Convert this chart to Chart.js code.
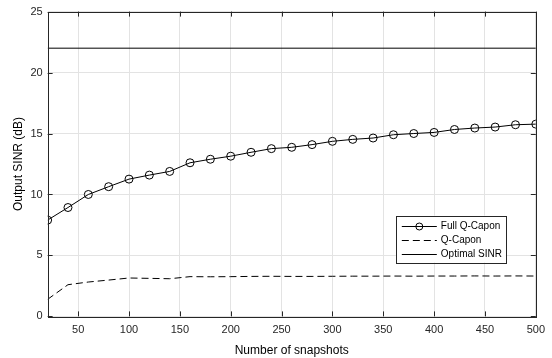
<!DOCTYPE html>
<html>
<head>
<meta charset="utf-8">
<script src="https://cdn.jsdelivr.net/npm/chart.js@4"></script>
<style>
  html, body { margin: 0; padding: 0; background: #fff; }
  #wrap { width: 552px; height: 358px; }
</style>
</head>
<body>
<div id="wrap"><canvas id="sinrChart"></canvas></div>
<script>
var snapshots = [20, 40, 60, 80, 100, 120, 140, 160, 180, 200, 220, 240, 260, 280, 300, 320, 340, 360, 380, 400, 420, 440, 460, 480, 500];
var fullQCapon = [7.9, 8.93, 10.0, 10.64, 11.26, 11.59, 11.89, 12.6, 12.89, 13.14, 13.46, 13.76, 13.87, 14.09, 14.36, 14.52, 14.63, 14.9, 15.0, 15.09, 15.33, 15.45, 15.53, 15.72, 15.77];
var qCapon = [1.4, 2.6, 2.82, 2.98, 3.15, 3.12, 3.09, 3.26, 3.25, 3.26, 3.28, 3.29, 3.28, 3.28, 3.29, 3.3, 3.3, 3.31, 3.3, 3.31, 3.31, 3.32, 3.31, 3.32, 3.31];
var optimalX = [20, 500];
var optimalSinr = [22, 22];
var xTicks = [50, 100, 150, 200, 250, 300, 350, 400, 450, 500];
var yTicks = [0, 5, 10, 15, 20, 25];

function pts(xs, ys) {
  return xs.map(function (x, i) { return { x: x, y: ys[i] }; });
}

var fontFamily = "'Liberation Sans', Arial, sans-serif";

// box around the plot + inward ticks, matlab style
var boxPlugin = {
  id: 'boxPlugin',
  afterDraw: function (chart) {
    var c = chart.ctx, a = chart.chartArea;
    var xs = chart.scales.x, ys = chart.scales.y;
    c.save();
    c.strokeStyle = '#262626';
    c.lineWidth = 1;
    c.strokeRect(Math.round(a.left) + 0.5, Math.round(a.top) + 0.5, Math.round(a.right - a.left), Math.round(a.bottom - a.top));
    c.beginPath();
    xTicks.forEach(function (v) {
      var px = Math.round(xs.getPixelForValue(v)) + 0.5;
      c.moveTo(px, a.bottom); c.lineTo(px, a.bottom - 5);
      c.moveTo(px, a.top); c.lineTo(px, a.top + 5);
    });
    yTicks.forEach(function (v) {
      var py = Math.round(ys.getPixelForValue(v)) + 0.5;
      c.moveTo(a.left, py); c.lineTo(a.left + 5, py);
      c.moveTo(a.right, py); c.lineTo(a.right - 5, py);
    });
    c.stroke();
    c.restore();
  }
};

// legend box inside the axes
var legendBox = {
  id: 'legendBox',
  afterDraw: function (chart) {
    var c = chart.ctx, a = chart.chartArea;
    var right = a.right - 30, top = a.top + 204;
    var w = 110, h = 47;
    var left = right - w;
    c.save();
    c.fillStyle = '#fff';
    c.fillRect(left, top, w, h);
    c.strokeStyle = '#262626';
    c.lineWidth = 1;
    c.strokeRect(Math.round(left) + 0.5, Math.round(top) + 0.5, w, h);
    c.font = '10px ' + fontFamily;
    c.textBaseline = 'middle';
    chart.data.datasets.forEach(function (ds, i) {
      var y = Math.round(top + 10 + i * 14.4) + 0.5;
      c.beginPath();
      c.setLineDash(ds.borderDash || []);
      c.strokeStyle = ds.borderColor;
      c.moveTo(left + 6, y); c.lineTo(left + 41, y);
      c.stroke();
      c.setLineDash([]);
      if (ds.pointRadius > 0) {
        c.beginPath();
        c.arc(left + 23.5, y, 3.5, 0, Math.PI * 2);
        c.stroke();
      }
      c.fillStyle = '#000';
      c.fillText(ds.label, left + 45, y);
    });
    c.restore();
  }
};

var ctx = document.getElementById('sinrChart').getContext('2d');
var sinrChart = new Chart(ctx, {
  type: 'line',
  data: {
    datasets: [{
      label: 'Full Q-Capon',
      data: pts(snapshots, fullQCapon),
      borderColor: '#000',
      borderWidth: 1,
      pointRadius: 4,
      pointBorderWidth: 1,
      pointBackgroundColor: 'rgba(0,0,0,0)',
      pointBorderColor: '#000',
      tension: 0
    }, {
      label: 'Q-Capon',
      data: pts(snapshots, qCapon),
      borderColor: '#000',
      borderWidth: 1,
      borderDash: [7, 4],
      pointRadius: 0,
      tension: 0
    }, {
      label: 'Optimal SINR',
      data: pts(optimalX, optimalSinr),
      borderColor: '#000',
      borderWidth: 1,
      pointRadius: 0,
      tension: 0
    }]
  },
  options: {
    responsive: true,
    maintainAspectRatio: false,
    animation: false,
    layout: { padding: { top: 5, right: 11, left: 11, bottom: 0 } },
    scales: {
      x: {
        type: 'linear',
        min: 20,
        max: 500,
        afterBuildTicks: function (s) { s.ticks = xTicks.map(function (v) { return { value: v }; }); },
        grid: { color: '#e3e3e3', drawTicks: false },
        border: { display: false },
        ticks: { color: '#262626', padding: 7, maxRotation: 0, font: { family: fontFamily, size: 11 } },
        title: { display: true, text: 'Number of snapshots', color: '#000', padding: { top: 0, bottom: 0 }, font: { family: fontFamily, size: 12 } }
      },
      y: {
        min: 0,
        max: 25,
        afterBuildTicks: function (s) { s.ticks = yTicks.map(function (v) { return { value: v }; }); },
        grid: { color: '#e3e3e3', drawTicks: false },
        border: { display: false },
        ticks: { color: '#262626', padding: 5, font: { family: fontFamily, size: 11 } },
        title: { display: true, text: 'Output SINR (dB)', color: '#000', padding: { top: 0, bottom: 0 }, font: { family: fontFamily, size: 12 } }
      }
    },
    plugins: {
      legend: { display: false },
      tooltip: { enabled: false }
    }
  },
  plugins: [boxPlugin, legendBox]
});
</script>
</body>
</html>
